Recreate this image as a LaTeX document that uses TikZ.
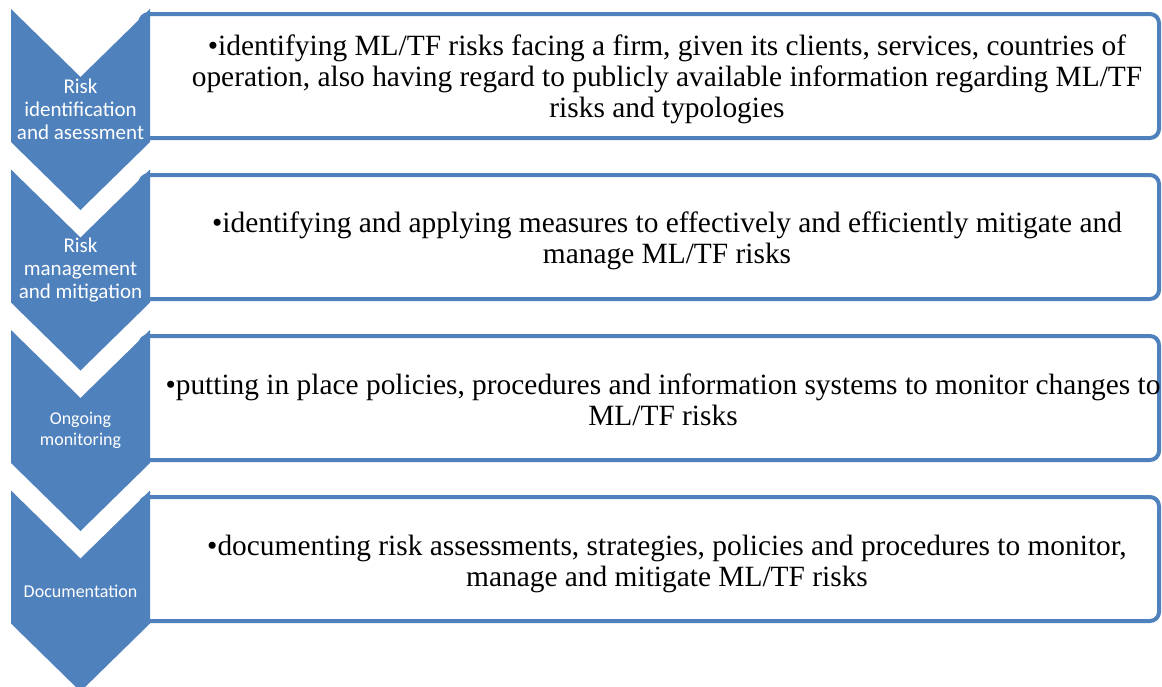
\documentclass[tikz,border=0pt]{standalone}
\usepackage{fontspec}
\setmainfont{Liberation Serif}
\newfontfamily\timesfont{Liberation Serif}
\newfontfamily\calibrifont{Carlito}
\definecolor{ablue}{HTML}{4F81BD}
\tikzset{
  chev/.style={fill=ablue, draw=none},
  boxframe/.style={draw=ablue, line width=4pt, fill=white, rounded corners=9pt, minimum width=1019pt, minimum height=124pt, inner sep=0pt},
  bigtext/.style={align=center, font=\timesfont\fontsize{29.4}{31}\selectfont, inner sep=0pt},
  chevtext/.style={align=center, text=white, font=\calibrifont\fontsize{21}{23}\selectfont, inner sep=0pt},
  chevtextsmall/.style={align=center, text=white, font=\calibrifont\fontsize{18}{20.5}\selectfont, inner sep=0pt}
}
\newcommand{\chevronshape}[2]{% name, top
  \path[chev] (11,#2) -- (80.5,#2+68) -- (150,#2) -- (150,#2+133) -- (80.5,#2+201) -- (11,#2+133) -- cycle;
  \coordinate (#1) at (80.5,#2+100.5);
}
\begin{document}
\begin{tikzpicture}[x=1pt,y=-1pt]
\useasboundingbox (0,0) rectangle (1162,686);
% boxes
\node[boxframe] (b1) at (649.5,76) {};
\node[boxframe] (b2) at (649.5,237) {};
\node[boxframe] (b3) at (649.5,398) {};
\node[boxframe] (b4) at (649.5,559) {};
% box texts
\node[bigtext] (t1) at (667,79.5) {\textbullet identifying ML/TF risks facing a firm, given its clients, services, countries of\\operation, also having regard to publicly available information regarding ML/TF\\risks and typologies};
\node[bigtext] (t2) at (667,240.5) {\textbullet identifying and applying measures to effectively and efficiently mitigate and\\manage ML/TF risks};
\node[bigtext] (t3) at (663,400) {\textbullet putting in place policies, procedures and information systems to monitor changes to\\ML/TF risks};
\node[bigtext] (t4) at (667,564) {\textbullet documenting risk assessments, strategies, policies and procedures to monitor,\\manage and mitigate ML/TF risks};
% chevrons
\chevronshape{c1}{9}
\chevronshape{c2}{169.5}
\chevronshape{c3}{330}
\chevronshape{c4}{490.5}
\node[chevtext] (l1) at (c1) {Risk\\identification\\and asessment};
\node[chevtext] (l2) at (c2) {Risk\\management\\and mitigation};
\node[chevtextsmall] (l3) at (c3) {Ongoing\\monitoring};
\node[chevtextsmall] (l4) at (c4) {Documentation};
\end{tikzpicture}
\end{document}
